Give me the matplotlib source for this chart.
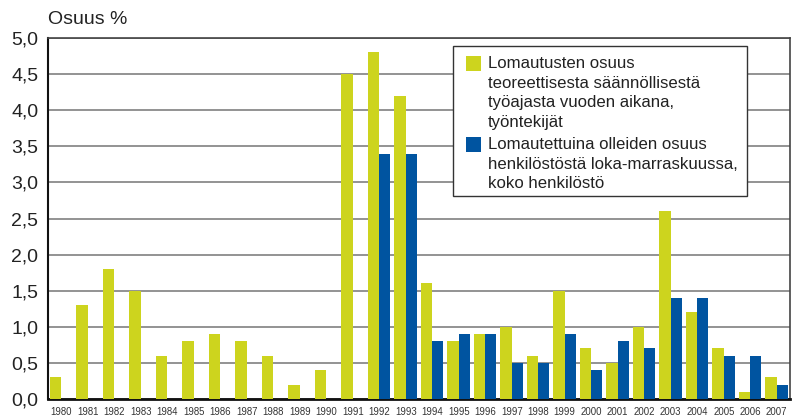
import matplotlib
matplotlib.use("Agg")
import matplotlib.pyplot as plt
import numpy as np
from matplotlib.patches import Rectangle

plt.rcParams['font.family'] = ['Liberation Sans', 'DejaVu Sans']

years = list(range(1980, 2008))
# Lomautusten osuus teoreettisesta säännöllisestä työajasta, työntekijät
layoff_share = [0.3, 1.3, 1.8, 1.5, 0.6, 0.8, 0.9, 0.8, 0.6, 0.2, 0.4, 4.5, 4.8, 4.2,
                1.6, 0.8, 0.9, 1.0, 0.6, 1.5, 0.7, 0.5, 1.0, 2.6, 1.2, 0.7, 0.1, 0.3]
# Lomautettuina olleiden osuus henkilöstöstä loka-marraskuussa (from 1992)
laid_off_years = list(range(1992, 2008))
laid_off_share = [3.4, 3.4, 0.8, 0.9, 0.9, 0.5, 0.5, 0.9, 0.4, 0.8, 0.7, 1.4, 1.4, 0.6, 0.6, 0.2]

yticks = [0.0, 0.5, 1.0, 1.5, 2.0, 2.5, 3.0, 3.5, 4.0, 4.5, 5.0]

legend_lines_1 = ["Lomautusten osuus", "teoreettisesta säännöllisestä",
                  "työajasta vuoden aikana,", "työntekijät"]
legend_lines_2 = ["Lomautettuina olleiden osuus", "henkilöstöstä loka-marraskuussa,",
                  "koko henkilöstö"]

YELLOW = '#cdd41e'
BLUE = '#0054a0'

W, H = 794, 417
fig = plt.figure(figsize=(W / 100, H / 100), dpi=100)
ax = fig.add_axes([48 / W, 1 - 399 / H, (790 - 48) / W, (399 - 38) / H])

x = np.arange(len(years))
x2 = np.array([years.index(y) for y in laid_off_years])
ax.bar(x - 0.22, layoff_share, width=0.44, color=YELLOW, zorder=3)
ax.bar(x2 + 0.21, laid_off_share, width=0.42, color=BLUE, zorder=3)

ax.set_xlim(-0.5, len(years) - 0.5)
ax.set_ylim(0, 5.0)
ax.set_yticks(yticks)
ax.set_yticklabels([("%.1f" % v).replace('.', ',') for v in yticks], fontsize=14, color='#222222')
ax.set_xticks(x)
ax.set_xticklabels([str(y) for y in years], fontsize=6.9, color='#333333')
ax.tick_params(axis='both', length=0)
ax.tick_params(axis='y', pad=7)
ax.tick_params(axis='x', pad=6)

ax.yaxis.grid(True, color='#8a8a8a', linewidth=1.3, zorder=1)
ax.set_axisbelow(True)
for side in ['top', 'right']:
    ax.spines[side].set_color('#444444')
    ax.spines[side].set_linewidth(1.2)
ax.spines['left'].set_color('#111111')
ax.spines['left'].set_linewidth(1.5)
ax.spines['bottom'].set_color('#111111')
ax.spines['bottom'].set_linewidth(2)

fig.text(48 / W, 1 - 24.5 / H, "Osuus %", fontsize=14, color='#222222', va='baseline', ha='left')

# legend box drawn by hand so the swatch sits on the first text line
fig.patches.append(Rectangle((453 / W, 1 - 196 / H), (747 - 453) / W, (196 - 46) / H,
                             transform=fig.transFigure, facecolor='white',
                             edgecolor='#333333', linewidth=1.0, zorder=5))
fig.patches.append(Rectangle((466 / W, 1 - 71 / H), 15 / W, 15 / H,
                             transform=fig.transFigure, facecolor=YELLOW,
                             edgecolor='none', zorder=6))
fig.patches.append(Rectangle((466 / W, 1 - 151.5 / H), 15 / W, 15 / H,
                             transform=fig.transFigure, facecolor=BLUE,
                             edgecolor='none', zorder=6))
for i, line in enumerate(legend_lines_1):
    fig.text(488 / W, 1 - (68.3 + 19.5 * i) / H, line, fontsize=12.1, color='#222222',
             va='baseline', ha='left', zorder=7)
for i, line in enumerate(legend_lines_2):
    fig.text(488 / W, 1 - (149.3 + 19.3 * i) / H, line, fontsize=12.1, color='#222222',
             va='baseline', ha='left', zorder=7)

fig.savefig('out.png', dpi=100)
